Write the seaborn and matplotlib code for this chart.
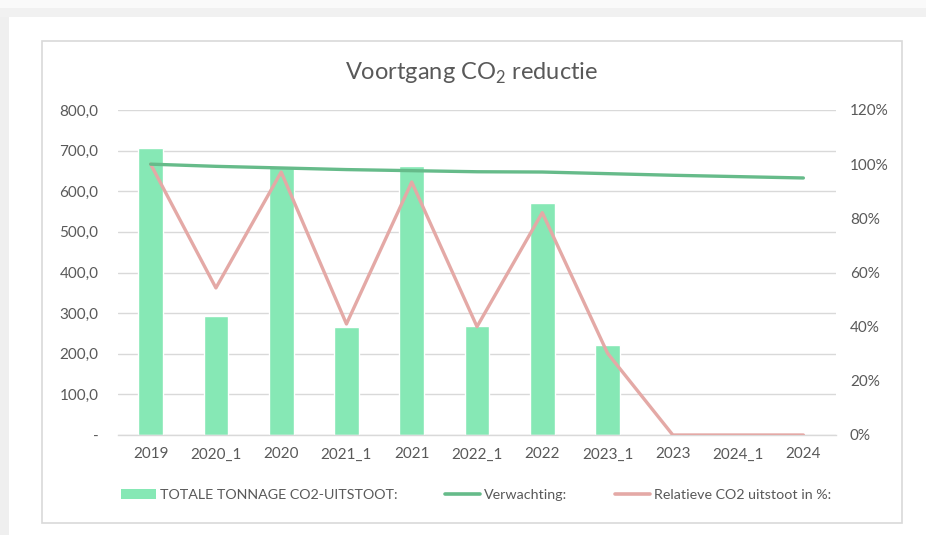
import numpy as np
import pandas as pd
import matplotlib
matplotlib.use("Agg")
import matplotlib.pyplot as plt
import matplotlib.patches as mpatches
from matplotlib.lines import Line2D
from matplotlib.ticker import FuncFormatter
import seaborn as sns

categories = ["2019", "2020_1", "2020", "2021_1", "2021", "2022_1", "2022",
              "2023_1", "2023", "2024_1", "2024"]
tonnage = [707, 293, 659, 265, 663, 268, 570, 222, np.nan, np.nan, np.nan]
verwachting = [1.000, 0.992, 0.986, 0.980, 0.976, 0.972, 0.971, 0.965, 0.959, 0.954, 0.949]
relatief = [1.000, 0.543, 0.971, 0.410, 0.934, 0.400, 0.821, 0.302, 0.0, 0.0, 0.0]

left_ticks = [0, 100, 200, 300, 400, 500, 600, 700, 800]
right_ticks = [0, 0.2, 0.4, 0.6, 0.8, 1.0, 1.2]

title_text = "Voortgang CO$_\\mathrm{2}$ reductie"
label_bar = "TOTALE TONNAGE CO2-UITSTOOT:"
label_verw = "Verwachting:"
label_rel = "Relatieve CO2 uitstoot in %:"

sns.set_theme(style="white")
plt.rcParams["font.family"] = ["Lato", "DejaVu Sans"]
plt.rcParams["mathtext.fontset"] = "custom"
plt.rcParams["mathtext.rm"] = "Lato"

BAR = "#86E8B5"
GREEN = "#66BB8A"
PINK = "#E4A9A6"
TXT = "#595959"
GRID = "#D9D9D9"

W, H = 926, 535
fig = plt.figure(figsize=(W / 100, H / 100), dpi=100)
fig.patch.set_facecolor("white")

# page background strips
fig.patches.append(mpatches.Rectangle((0, 1 - 8 / H), 1, 8 / H, transform=fig.transFigure,
                                      facecolor="#FAFAFA", edgecolor="none", zorder=-10))
fig.patches.append(mpatches.Rectangle((0, 1 - 17 / H), 1, 9 / H, transform=fig.transFigure,
                                      facecolor="#F1F1F1", edgecolor="none", zorder=-10))
fig.patches.append(mpatches.Rectangle((0, 0), 9 / W, 1 - 17 / H, transform=fig.transFigure,
                                      facecolor="#EFEFEF", edgecolor="none", zorder=-10))
# chart box
fig.patches.append(mpatches.Rectangle((42 / W, 1 - 523 / H), (902 - 42) / W, (523 - 41) / H,
                                      transform=fig.transFigure, facecolor="white",
                                      edgecolor=GRID, linewidth=1.2, zorder=-5))

ax = fig.add_axes([118 / W, 1 - 435 / H, (836 - 118) / W, (435 - 110) / H])
ax.set_facecolor("none")

df = pd.DataFrame({"cat": categories, "tonnage": tonnage})
sns.barplot(data=df, x="cat", y="tonnage", color=BAR, saturation=1, width=0.38, ax=ax, zorder=2)
ax.set_ylim(0, 800)
ax.set_xlim(-0.5, len(categories) - 0.5)
ax.set_yticks(left_ticks)
ax.yaxis.set_major_formatter(FuncFormatter(lambda v, p: "-" if v == 0 else f"{v:.1f}".replace(".", ",")))
ax.grid(axis="y", color=GRID, linewidth=1.0, zorder=0)
ax.set_axisbelow(True)
for s in ["top", "left", "right"]:
    ax.spines[s].set_visible(False)
ax.spines["bottom"].set_color(GRID)
ax.spines["bottom"].set_linewidth(1.0)
ax.set_xlabel("")
ax.set_ylabel("")
ax.tick_params(axis="y", length=0, pad=14, labelsize=11, labelcolor=TXT)
ax.tick_params(axis="x", length=0, pad=9, labelsize=11, labelcolor=TXT)

ax2 = ax.twinx()
xpos = np.arange(len(categories))
ldf = pd.DataFrame({"x": xpos, "verw": verwachting, "rel": relatief})
sns.lineplot(data=ldf, x="x", y="verw", color=GREEN, linewidth=2.4, ax=ax2, zorder=4)
sns.lineplot(data=ldf, x="x", y="rel", color=PINK, linewidth=2.4, ax=ax2, zorder=3)
ax2.set_ylim(0, 1.2)
ax2.set_xlim(-0.5, len(categories) - 0.5)
ax2.set_yticks(right_ticks)
ax2.yaxis.set_major_formatter(FuncFormatter(lambda v, p: f"{v * 100:.0f}%"))
for s in ["top", "left", "right", "bottom"]:
    ax2.spines[s].set_visible(False)
ax2.set_xlabel("")
ax2.set_ylabel("")
ax2.grid(False)
ax2.tick_params(axis="y", length=0, pad=10, labelsize=11, labelcolor=TXT)

fig.text(472 / W, 1 - 73 / H, title_text, ha="center", va="center", fontsize=17, color=TXT)

handles = [mpatches.Patch(facecolor=BAR, edgecolor="none"),
           Line2D([0], [0], color=GREEN, linewidth=2.6),
           Line2D([0], [0], color=PINK, linewidth=2.6)]
fig.legend(handles, [label_bar, label_verw, label_rel], loc="center",
           bbox_to_anchor=(476 / W, 1 - 495 / H), ncol=3, frameon=False, fontsize=10.3,
           labelcolor=TXT, handlelength=2.45, handletextpad=0.28, columnspacing=3.3,
           handleheight=0.7)

fig.savefig("out.png", dpi=100, facecolor=fig.get_facecolor())
